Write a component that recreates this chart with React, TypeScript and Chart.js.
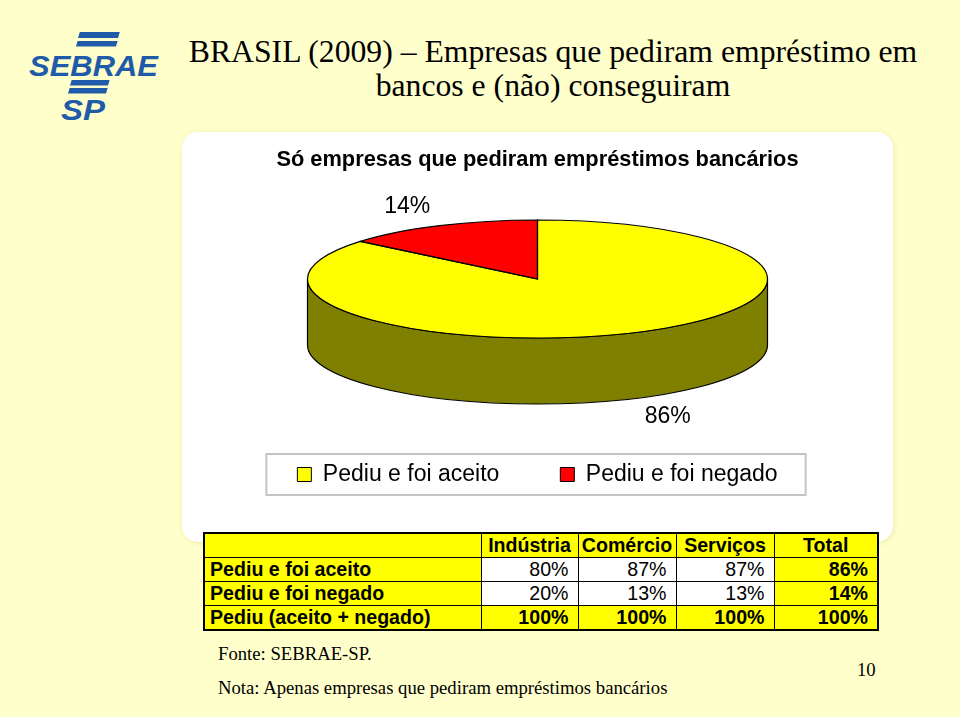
import React, { useEffect, useRef } from 'react';
import { Chart, registerables } from 'chart.js';

Chart.register(...registerables);

// ---- data ----
const categories = ['Indústria', 'Comércio', 'Serviços', 'Total'];
const rowLabels = ['Pediu e foi aceito', 'Pediu e foi negado', 'Pediu (aceito + negado)'];
const aceito = [80, 87, 87, 86];
const negado = [20, 13, 13, 14];
const pediu = [100, 100, 100, 100];
const pieLabels = ['Pediu e foi aceito', 'Pediu e foi negado'];
const pieValues = [86, 14];
const pieColors = ['#FFFF00', '#FF0000'];
const sideColors = ['#808000', '#800000'];

// ---- layout (canvas px) ----
const CANVAS_W = 711;
const CANVAS_H = 395;
const PIE_CY = 147;
const PIE_RX = 230;
const PIE_RY = 59;
const PIE_DEPTH = 66;
const SANS = "'Liberation Sans', Arial, Helvetica, sans-serif";
const SERIF = "'Liberation Serif', 'Times New Roman', serif";

const pie3d = {
  id: 'pie3d',
  beforeDatasetsDraw(chart: any) {
    const ctx = chart.ctx as CanvasRenderingContext2D;
    const meta = chart.getDatasetMeta(0);
    const ca = chart.chartArea;
    const cx = (ca.left + ca.right) / 2;
    const cy = PIE_CY;
    ctx.save();
    meta.data.forEach((arc: any, i: number) => {
      const p = arc.getProps(['startAngle', 'endAngle'], true);
      for (const base of [-2 * Math.PI, 0, 2 * Math.PI]) {
        const a1 = Math.max(p.startAngle, base);
        const a2 = Math.min(p.endAngle, base + Math.PI);
        if (a2 > a1) {
          ctx.beginPath();
          ctx.ellipse(cx, cy, PIE_RX, PIE_RY, 0, a1, a2);
          ctx.ellipse(cx, cy + PIE_DEPTH, PIE_RX, PIE_RY, 0, a2, a1, true);
          ctx.closePath();
          ctx.fillStyle = sideColors[i];
          ctx.fill();
          ctx.lineWidth = 1.2;
          ctx.strokeStyle = '#000';
          ctx.stroke();
        }
      }
    });
    ctx.restore();
    const a0 = meta.data[0].getProps(['x', 'y', 'outerRadius'], true);
    ctx.save();
    ctx.translate(cx, cy);
    ctx.scale(PIE_RX / a0.outerRadius, PIE_RY / a0.outerRadius);
    ctx.translate(-a0.x, -a0.y);
  },
  afterDatasetsDraw(chart: any) {
    const ctx = chart.ctx as CanvasRenderingContext2D;
    ctx.restore();
    const meta = chart.getDatasetMeta(0);
    const ca = chart.chartArea;
    const cx = (ca.left + ca.right) / 2;
    const cy = PIE_CY;
    ctx.save();
    meta.data.forEach((arc: any) => {
      const p = arc.getProps(['startAngle', 'endAngle'], true);
      ctx.beginPath();
      ctx.moveTo(cx, cy);
      ctx.ellipse(cx, cy, PIE_RX, PIE_RY, 0, p.startAngle, p.endAngle);
      ctx.closePath();
      ctx.lineWidth = 1.2;
      ctx.strokeStyle = '#000';
      ctx.stroke();
    });
    ctx.font = `23px ${SANS}`;
    ctx.fillStyle = '#000';
    ctx.textAlign = 'center';
    ctx.textBaseline = 'middle';
    meta.data.forEach((arc: any, i: number) => {
      const p = arc.getProps(['startAngle', 'endAngle'], true);
      const mid = (p.startAngle + p.endAngle) / 2;
      const s = Math.sin(mid);
      const x = cx + 1.33 * PIE_RX * Math.cos(mid);
      const y = cy + 1.35 * PIE_RY * s + (s > 0 ? PIE_DEPTH : 0);
      ctx.fillText(`${chart.data.datasets[0].data[i]}%`, x, y);
    });
    ctx.restore();
  },
  afterDraw(chart: any) {
    const hb = chart.legend && chart.legend.legendHitBoxes;
    if (!hb || !hb.length) return;
    const ctx = chart.ctx as CanvasRenderingContext2D;
    const first = hb[0];
    const last = hb[hb.length - 1];
    const left = first.left - 31;
    const right = last.left + last.width + 28;
    const midY = first.top + first.height / 2;
    ctx.save();
    ctx.strokeStyle = '#c4c4c4';
    ctx.lineWidth = 2;
    ctx.strokeRect(left, midY - 20.5, right - left, 41);
    ctx.restore();
  },
};

function PieChart() {
  const ref = useRef<HTMLCanvasElement | null>(null);
  useEffect(() => {
    if (!ref.current) return;
    const chart = new Chart(ref.current, {
      type: 'pie',
      data: {
        labels: pieLabels,
        datasets: [
          {
            data: pieValues,
            backgroundColor: pieColors,
            borderWidth: 0,
          },
        ],
      },
      options: {
        animation: false,
        responsive: false,
        devicePixelRatio: 1,
        layout: { padding: { top: 0, bottom: 31, left: 0, right: 0 } },
        plugins: {
          title: {
            display: true,
            text: 'Só empresas que pediram empréstimos bancários',
            color: '#000',
            font: { family: SANS, size: 21.8, weight: 'bold' },
            padding: { top: 15, bottom: 10 },
          },
          legend: {
            display: true,
            position: 'bottom',
            labels: {
              color: '#000',
              font: { family: SANS, size: 23 },
              boxWidth: 14,
              boxHeight: 14,
              padding: 61,
              generateLabels: (chart: any) => {
                const base = (Chart as any).overrides.pie.plugins.legend.labels.generateLabels(chart);
                return base.map((l: any) => ({ ...l, strokeStyle: '#000', lineWidth: 1 }));
              },
            },
          },
          tooltip: { enabled: false },
        },
      },
      plugins: [pie3d],
    } as any);
    return () => chart.destroy();
  }, []);
  return (
    <canvas
      ref={ref}
      width={CANVAS_W}
      height={CANVAS_H}
      style={{ position: 'absolute', left: 182, top: 132, width: CANVAS_W, height: CANVAS_H, display: 'block' }}
    />
  );
}

function Logo() {
  const blue = '#1f5ba8';
  const bar = (x0: number, x1: number, y: number, h: number) => {
    const sk = h * 0.3;
    return `${x0 + sk},${y} ${x1 + sk},${y} ${x1},${y + h} ${x0},${y + h}`;
  };
  return (
    <svg width={180} height={130} style={{ position: 'absolute', left: 0, top: 0 }}>
      <polygon points={bar(78, 118, 32, 6)} fill={blue} />
      <polygon points={bar(76, 116, 41, 5.5)} fill={blue} />
      <polygon points={bar(70, 108, 80, 5.5)} fill={blue} />
      <polygon points={bar(68, 106, 88, 5.5)} fill={blue} />
      <text
        x={29}
        y={76}
        fill={blue}
        textLength={129}
        lengthAdjust="spacingAndGlyphs"
        style={{ font: `italic 900 29.5px ${SANS}` }}
      >
        SEBRAE
      </text>
      <text
        x={61}
        y={120}
        fill={blue}
        textLength={44}
        lengthAdjust="spacingAndGlyphs"
        style={{ font: `italic 900 29.5px ${SANS}` }}
      >
        SP
      </text>
    </svg>
  );
}

function DataTable() {
  const border = '1.5px solid #000';
  const cell: React.CSSProperties = {
    border,
    height: 23,
    padding: '0 9px 0 5px',
    lineHeight: '23px',
    fontSize: 19.6,
    fontFamily: SANS,
    color: '#000',
    whiteSpace: 'nowrap',
    overflow: 'visible',
  };
  const yellow = '#FFFF00';
  const rows = [aceito, negado, pediu];
  return (
    <table
      style={{
        position: 'absolute',
        left: 203,
        top: 532,
        borderCollapse: 'collapse',
        border: '2px solid #000',
        tableLayout: 'fixed',
        width: 674,
      }}
    >
      <colgroup>
        <col style={{ width: 277 }} />
        <col style={{ width: 97 }} />
        <col style={{ width: 98 }} />
        <col style={{ width: 98 }} />
        <col style={{ width: 104 }} />
      </colgroup>
      <tbody>
        <tr>
          <td style={{ ...cell, background: yellow }} />
          {categories.map((c) => (
            <td key={c} style={{ ...cell, background: yellow, fontWeight: 'bold', textAlign: 'center', padding: '0 1px' }}>
              {c}
            </td>
          ))}
        </tr>
        {rows.map((vals, r) => (
          <tr key={r}>
            <td style={{ ...cell, background: yellow, fontWeight: 'bold', textAlign: 'left' }}>{rowLabels[r]}</td>
            {vals.map((v, c) => {
              const isTotal = c === categories.length - 1;
              const isSum = r === rows.length - 1;
              const hi = isTotal || isSum;
              return (
                <td
                  key={c}
                  style={{
                    ...cell,
                    background: hi ? yellow : '#FFFFFF',
                    fontWeight: hi ? 'bold' : 'normal',
                    textAlign: 'right',
                  }}
                >
                  {v}%
                </td>
              );
            })}
          </tr>
        ))}
      </tbody>
    </table>
  );
}

export default function App() {
  const foot: React.CSSProperties = {
    position: 'absolute',
    fontFamily: SERIF,
    fontSize: 18.7,
    lineHeight: '20px',
    color: '#000',
    whiteSpace: 'nowrap',
  };
  return (
    <div
      style={{
        position: 'fixed',
        left: 0,
        top: 0,
        width: 960,
        height: 717,
        background: '#FFFFCC',
        overflow: 'hidden',
      }}
    >
      <Logo />
      <div
        style={{
          position: 'absolute',
          left: 170,
          top: 35,
          width: 766,
          textAlign: 'center',
          fontFamily: SERIF,
          fontSize: 31.7,
          lineHeight: '34px',
          color: '#000',
          whiteSpace: 'nowrap',
        }}
      >
        BRASIL (2009) – Empresas que pediram empréstimo em
        <br />
        bancos e (não) conseguiram
      </div>
      <div
        style={{
          position: 'absolute',
          left: 182,
          top: 132,
          width: 711,
          height: 410,
          background: '#FFFFFF',
          borderRadius: 16,
          boxShadow: '1px 1px 5px rgba(220, 220, 150, 0.6)',
        }}
      />
      <PieChart />
      <DataTable />
      <div style={{ ...foot, left: 218, top: 644 }}>Fonte: SEBRAE-SP.</div>
      <div style={{ ...foot, left: 218, top: 678 }}>Nota: Apenas empresas que pediram empréstimos bancários</div>
      <div style={{ ...foot, left: 857, top: 660 }}>10</div>
    </div>
  );
}
